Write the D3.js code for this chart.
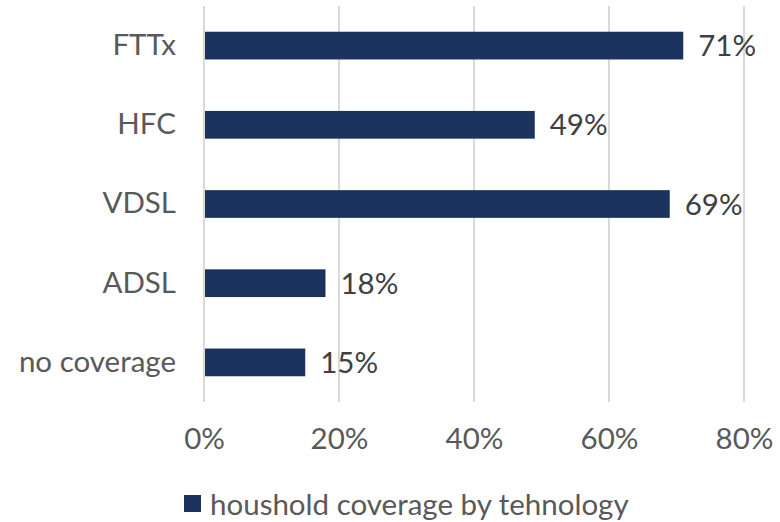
<!DOCTYPE html>
<html>
<head>
<meta charset="utf-8">
<script src="https://d3js.org/d3.v7.min.js"></script>
<style>
    html, body {
        margin: 0;
        padding: 0;
        background: white;
    }

    svg text {
        font-family: Lato, 'Open Sans', sans-serif;
        fill: #595959;
    }
</style>
</head>
<body>
<svg id="chart" width="780" height="522"></svg>
<script>
    // chart data
    var categories = ["FTTx", "HFC", "VDSL", "ADSL", "no coverage"];
    var coverage = [71, 49, 69, 18, 15];
    var tickValues = [0, 20, 40, 60, 80];
    var seriesName = "houshold coverage by tehnology";

    var barColor = "#1c3360";
    var fontSize = "29.5px";

    var margin = {top: 6, right: 36, bottom: 120, left: 204};
    var width = 780, height = 522;

    var svg = d3.select("#chart");

    var x = d3.scaleLinear()
        .domain([0, 80])
        .range([margin.left, width - margin.right]);

    var y = d3.scaleBand()
        .domain(categories)
        .range([margin.top, height - margin.bottom])
        .paddingInner(0.65)
        .paddingOuter(0.325);

    // gridlines
    svg.append("g")
        .selectAll("line")
        .data(tickValues)
        .enter().append("line")
        .attr("x1", function (d) { return x(d); })
        .attr("x2", function (d) { return x(d); })
        .attr("y1", margin.top)
        .attr("y2", height - margin.bottom)
        .attr("stroke", "#d9d9d9")
        .attr("stroke-width", 2);

    // bars
    svg.append("g")
        .selectAll("rect")
        .data(categories)
        .enter().append("rect")
        .attr("x", x(0) + 1)
        .attr("y", function (d) { return y(d); })
        .attr("width", function (d, i) { return x(coverage[i]) - x(0) - 1; })
        .attr("height", y.bandwidth())
        .attr("fill", barColor);

    // value labels
    svg.append("g")
        .selectAll("text")
        .data(categories)
        .enter().append("text")
        .attr("x", function (d, i) { return x(coverage[i]) + 15; })
        .attr("y", function (d) { return y(d) + y.bandwidth() / 2; })
        .attr("dy", "0.36em")
        .style("font-size", fontSize)
        .style("fill", "#404040")
        .text(function (d, i) { return coverage[i] + "%"; });

    // category axis
    var yAxis = svg.append("g")
        .attr("transform", "translate(" + margin.left + ",0)")
        .call(d3.axisLeft(y).tickSize(0).tickPadding(28));
    yAxis.select(".domain").remove();
    yAxis.selectAll("text")
        .attr("fill", null)
        .style("font-size", fontSize);

    // value axis
    var xAxis = svg.append("g")
        .attr("transform", "translate(0," + (height - margin.bottom) + ")")
        .call(d3.axisBottom(x).tickValues(tickValues).tickSize(0).tickPadding(26)
            .tickFormat(function (d) { return d + "%"; }));
    xAxis.select(".domain").remove();
    xAxis.selectAll("text")
        .attr("fill", null)
        .style("font-size", fontSize);

    // legend
    var legend = svg.append("g")
        .attr("transform", "translate(184,495)");
    legend.append("rect")
        .attr("width", 17)
        .attr("height", 17)
        .attr("fill", barColor);
    legend.append("text")
        .attr("x", 26)
        .attr("y", 9.5)
        .attr("dy", "0.36em")
        .style("font-size", fontSize)
        .text(seriesName);
</script>
</body>
</html>
